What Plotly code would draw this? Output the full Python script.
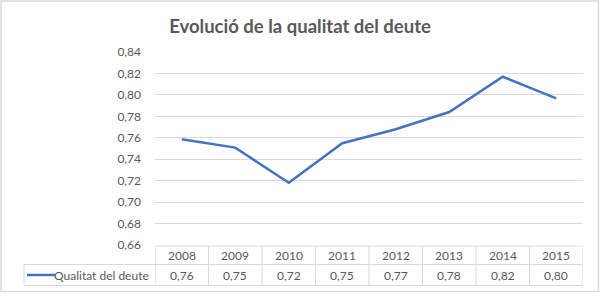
import plotly.graph_objects as go

# ---- data ----
years = ["2008", "2009", "2010", "2011", "2012", "2013", "2014", "2015"]
quality = [0.7587, 0.7508, 0.718, 0.7549, 0.768, 0.784, 0.8169, 0.7968]
series_name = "Qualitat del deute"
title_text = "Evolució de la qualitat del deute"
y_ticks = [0.66, 0.68, 0.70, 0.72, 0.74, 0.76, 0.78, 0.80, 0.82, 0.84]

W, H = 600, 293
L, R, T, B = 155, 17, 52, 48
PW, PH = W - L - R, H - T - B

def px(xp):
    return (xp - L) / PW

def py(yp):
    return (H - B - yp) / PH

GRID = "#d9d9d9"
TXT = "#595959"
FONT = "Lato, Calibri, Carlito, sans-serif"

xs = list(range(len(years)))

fig = go.Figure()
fig.add_trace(go.Scatter(
    x=xs, y=quality, mode="lines", name=series_name,
    line=dict(color="#4472C4", width=2.5), showlegend=False,
))

shapes = []
annotations = []

# table horizontal lines
y_top, y_mid, y_bot = 246, 264.5, 285.5
shapes.append(dict(type="line", xref="x", yref="paper", x0=-0.5, x1=len(years) - 0.5,
                   y0=py(y_top), y1=py(y_top), line=dict(color=GRID, width=1)))
for yy in (y_mid, y_bot):
    shapes.append(dict(type="line", xref="paper", yref="paper", x0=px(24), x1=1,
                       y0=py(yy), y1=py(yy), line=dict(color=GRID, width=1)))
# table vertical lines
for i in range(len(years) + 1):
    shapes.append(dict(type="line", xref="x", yref="paper", x0=i - 0.5, x1=i - 0.5,
                       y0=py(y_top), y1=py(y_bot), line=dict(color=GRID, width=1)))
shapes.append(dict(type="line", xref="paper", yref="paper", x0=px(24), x1=px(24),
                   y0=py(y_mid), y1=py(y_bot), line=dict(color=GRID, width=1)))
# legend key
shapes.append(dict(type="line", xref="paper", yref="paper", x0=px(27), x1=px(55),
                   y0=py(275), y1=py(275), line=dict(color="#4472C4", width=2.5)))
# outer border
shapes.append(dict(type="rect", xref="paper", yref="paper", x0=px(1), x1=px(598.5),
                   y0=py(291.5), y1=py(1), line=dict(color=GRID, width=1.5)))

for i, (yr, v) in enumerate(zip(years, quality)):
    annotations.append(dict(x=i, y=py((y_top + y_mid) / 2), xref="x", yref="paper",
                            text=yr, showarrow=False, xanchor="center", yanchor="middle",
                            font=dict(family=FONT, size=12, color=TXT)))
    annotations.append(dict(x=i, y=py((y_mid + y_bot) / 2), xref="x", yref="paper",
                            text=f"{v:.2f}".replace(".", ","), showarrow=False,
                            xanchor="center", yanchor="middle",
                            font=dict(family=FONT, size=12, color=TXT)))
annotations.append(dict(x=px(151), y=py((y_mid + y_bot) / 2), xref="paper", yref="paper",
                        text=series_name, showarrow=False, xanchor="right", yanchor="middle",
                        font=dict(family=FONT, size=12, color=TXT)))

fig.update_layout(
    width=W, height=H,
    margin=dict(l=L, r=R, t=T, b=B),
    paper_bgcolor="white", plot_bgcolor="white",
    separators=", ",
    title=dict(text=f"<b>{title_text}</b>", x=0.5, xref="container", xanchor="center",
               y=1 - 27 / H, yref="container", yanchor="middle",
               font=dict(family=FONT, size=18.5, color=TXT)),
    xaxis=dict(range=[-0.5, len(years) - 0.5], showgrid=False, zeroline=False,
               showticklabels=False, showline=False, fixedrange=True),
    yaxis=dict(range=[0.66, 0.84], tickvals=y_ticks, tickformat=".2f",
               showgrid=True, gridcolor=GRID, gridwidth=1, zeroline=False,
               showline=False, ticklabelstandoff=13,
               tickfont=dict(family=FONT, size=12, color=TXT)),
    shapes=shapes, annotations=annotations,
)

fig.write_html("out.html")
